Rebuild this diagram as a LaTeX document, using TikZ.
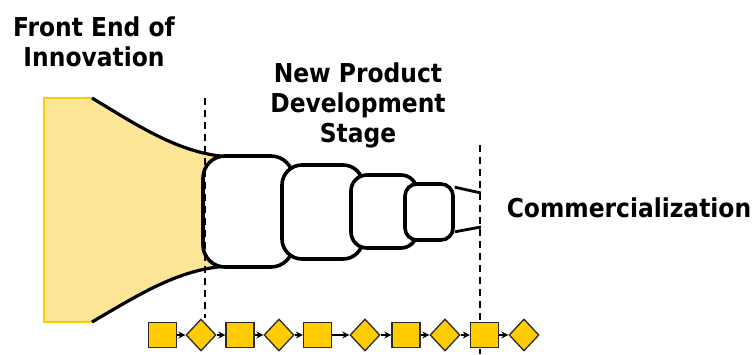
\documentclass[tikz,border=0pt]{standalone}
\usepackage{fontspec}
\setmainfont{DejaVu Sans Condensed}
\usetikzlibrary{shapes.geometric,arrows.meta}
\definecolor{gold}{HTML}{FFCC00}
\definecolor{paleyellow}{HTML}{FCE597}
\definecolor{edge}{HTML}{2A2A2A}

\begin{document}
\begin{tikzpicture}[x=1pt,y=-1pt,
  heading/.style={font=\bfseries\fontsize{26}{30}\selectfont, align=center, inner sep=0pt},
  stagebox/.style={draw=black, line width=3.6pt, fill=white, rectangle,
    rounded corners=#1, inner sep=0pt},
  funnel/.style={draw=black, line width=3.2pt},
  divider/.style={draw=black, line width=1.2pt, dash pattern=on 7pt off 5pt},
  gatebox/.style={draw=edge, fill=gold, line width=1.3pt, rectangle,
    minimum width=28pt, minimum height=25pt, inner sep=0pt},
  gatediamond/.style={draw=edge, fill=gold, line width=1.3pt, diamond,
    minimum width=30pt, minimum height=32pt, inner sep=0pt},
  flow/.style={draw=black, line width=1.1pt, -{Stealth[length=7pt,width=7pt]}}
]
\useasboundingbox (0,0) rectangle (756,354);

% --- front end funnel (yellow) ---
\coordinate (fa) at (44,98);
\coordinate (fb) at (92,98);
\coordinate (fc) at (92,322);
\coordinate (fd) at (44,322);
\fill[paleyellow] (fa) -- (fb) .. controls (140,127) and (182,155) .. (230,157)
  -- (230,266) .. controls (182,267) and (140,294) .. (fc) -- (fd) -- cycle;
\draw[gold, line width=1.8pt] (fb) -- (fa) -- (fd) -- (fc);
\draw[funnel] (fb) .. controls (140,127) and (182,155) .. (232,157);
\draw[funnel] (fc) .. controls (140,294) and (182,267) .. (232,266);

% --- development stages ---
\node[stagebox=22pt, minimum width=90pt, minimum height=111pt] (s1) at (248,211.5) {};
\node[stagebox=20pt, minimum width=81pt, minimum height=94pt] (s2) at (322.5,212) {};
\node[stagebox=16pt, minimum width=66pt, minimum height=73pt] (s3) at (384,211.5) {};
\node[stagebox=12pt, minimum width=48pt, minimum height=56pt] (s4) at (429,212) {};

\coordinate (ct) at (481,193);
\coordinate (cb) at (481,227);
\draw[funnel, line width=2.8pt] ([yshift=-5pt]s4.north east) -- (ct);
\draw[funnel, line width=2.8pt] ([yshift=10pt]s4.south east) -- (cb);

% --- stage boundaries ---
\coordinate (d1t) at (205,98);
\coordinate (d2t) at (480,145);
\coordinate (d2b) at (480,354);

% --- gate chain ---
\node[gatebox] (g1) at (162.5,335) {};
\node[gatediamond] (g2) at (201,335) {};
\node[gatebox] (g3) at (240,335) {};
\node[gatediamond] (g4) at (279,335) {};
\node[gatebox] (g5) at (317.5,335) {};
\node[gatediamond] (g6) at (365,335) {};
\node[gatebox] (g7) at (406,335) {};
\node[gatediamond] (g8) at (445,335) {};
\draw[divider] (d2t) -- (d2b);
\node[gatebox] (g9) at (484.5,335) {};
\node[gatediamond] (g10) at (524,335) {};
\draw[divider] (d1t) -- (d1t |- g2.north);

\foreach \a/\b in {g1/g2,g2/g3,g3/g4,g4/g5,g5/g6,g6/g7,g7/g8,g8/g9,g9/g10}
  \draw[flow] (\a.east) -- (\b.west);

% --- labels ---
\node[heading, anchor=base] (fei) at (94,66) {Front End of\\Innovation};
\node[heading, anchor=base] (npd) at (358,142) {New Product\\Development\\Stage};
\node[heading, anchor=base] (com) at (629,217) {Commercialization};
\end{tikzpicture}
\end{document}
